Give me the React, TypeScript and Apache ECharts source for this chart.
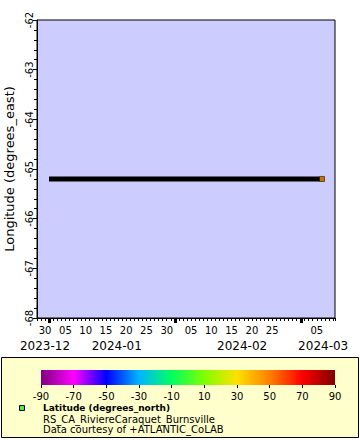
import React, { useEffect, useRef } from 'react';
import * as echarts from 'echarts';

// ---------- data ----------
const axisStartDate = '2023-11-28T00:00:00Z';
const axisEndDate = '2024-02-09T12:00:00Z';

const times = [
  '2023-12-01T14:00:00Z',
  '2023-12-15T00:00:00Z',
  '2024-01-01T00:00:00Z',
  '2024-01-15T00:00:00Z',
  '2024-02-01T00:00:00Z',
  '2024-02-06T07:00:00Z',
];
const longitudes = [-65.2, -65.2, -65.2, -65.2, -65.2, -65.2];
const latitudes = [47.6, 47.6, 47.6, 47.6, 47.6, 47.6];

const dayLabelDates = [
  '2023-11-30', '2023-12-05', '2023-12-10', '2023-12-15', '2023-12-20', '2023-12-25', '2023-12-30',
  '2024-01-05', '2024-01-10', '2024-01-15', '2024-01-20', '2024-01-25', '2024-02-05',
];
const dayLabelTexts = ['30', '05', '10', '15', '20', '25', '30', '05', '10', '15', '20', '25', '05'];

const monthTickDates = ['2023-12-01', '2024-01-01', '2024-02-01'];
const monthLabelTexts = ['2023-12', '2024-01', '2024-02', '2024-03'];
const monthLabelDates = ['2023-11-29T23:00:00Z', '2023-12-17T16:00:00Z', '2024-01-17T14:00:00Z', '2024-02-06T14:00:00Z'];

const yTicks = [-68, -67, -66, -65, -64, -63, -62];

const paletteValues = [-90, -70, -50, -30, -10, 10, 30, 50, 70, 90];
const paletteColors = ['#800080', '#FF00FF', '#0000FF', '#00B4FF', '#00FF60', '#80FF00', '#FFE000', '#FF8000', '#FF0000', '#800000'];

const legendTitle = 'Latitude (degrees_north)';
const legendLine2 = 'RS_CA_RiviereCaraquet_Burnsville';
const legendLine3 = 'Data courtesy of +ATLANTIC_CoLAB';
const yAxisTitle = 'Longitude (degrees_east)';

// ---------- helpers ----------
const DAY = 86400000;
const t0 = Date.parse(axisStartDate);
const toDay = (s: string) => {
  const full = s.length === 10 ? s + 'T00:00:00Z' : s;
  return (Date.parse(full) - t0) / DAY;
};

const FONT = 'DejaVu Sans';

export default function App() {
  const ref = useRef<HTMLDivElement>(null);
  useEffect(() => {
    if (!ref.current) return;
    const chart = echarts.init(ref.current, null, { renderer: 'svg' });

    const dayLabelMap: Record<number, string> = {};
    dayLabelDates.forEach((d, i) => {
      dayLabelMap[Math.round(toDay(d))] = dayLabelTexts[i];
    });

    const lineData = times.map((t, i) => [toDay(t), longitudes[i], latitudes[i]]);
    const lastIdx = times.length - 1;
    const stops = paletteValues.map((v, i) => ({ offset: (v + 90) / 180, color: paletteColors[i] }));

    const option: any = {
      animation: false,
      backgroundColor: '#ffffff',
      textStyle: { fontFamily: FONT, color: '#000' },
      grid: [
        {
          left: 37, right: 25, top: 20, bottom: 122, containLabel: false, outerBoundsMode: 'none',
          show: true, backgroundColor: '#CCCCFF', borderColor: '#000', borderWidth: 1,
        },
        { left: 41, right: 25, top: 370, height: 15, show: false, containLabel: false, outerBoundsMode: 'none' },
      ],
      xAxis: [
        {
          gridIndex: 0, type: 'value', min: 0, max: toDay(axisEndDate), interval: 1,
          axisLine: { show: true, lineStyle: { color: '#000', width: 1 } },
          axisTick: { show: true, length: 3, lineStyle: { color: '#000' } },
          axisLabel: {
            show: true, margin: 7, fontSize: 10, fontFamily: FONT, color: '#000',
            formatter: (v: number) => dayLabelMap[Math.round(v)] ?? '',
          },
          splitLine: { show: false },
        },
        {
          gridIndex: 1, type: 'value', min: -90, max: 90, interval: 20,
          axisLine: { show: false },
          axisTick: { show: true, length: 3, lineStyle: { color: '#000' } },
          axisLabel: { show: true, margin: 6, fontSize: 10, fontFamily: FONT, color: '#000' },
          splitLine: { show: false },
        },
      ],
      yAxis: [
        {
          gridIndex: 0, type: 'value', min: yTicks[0], max: yTicks[yTicks.length - 1], interval: 1,
          name: yAxisTitle, nameLocation: 'middle', nameGap: 14,
          nameTextStyle: { fontSize: 13, fontFamily: FONT, color: '#000' },
          axisLine: { show: true, lineStyle: { color: '#000' } },
          axisTick: { show: true, length: 4, lineStyle: { color: '#000' } },
          minorTick: { show: true, splitNumber: 5, length: 3, lineStyle: { color: '#000' } },
          axisLabel: { show: true, rotate: 90, margin: 3, fontSize: 10, fontFamily: FONT, color: '#000' },
          splitLine: { show: false },
          minorSplitLine: { show: false },
        },
        { gridIndex: 1, type: 'value', min: 0, max: 1, show: false },
      ],
      visualMap: {
        show: false, type: 'continuous', seriesIndex: 1, dimension: 2,
        min: -90, max: 90,
        inRange: { color: paletteColors },
      },
      series: [
        {
          type: 'line', xAxisIndex: 0, yAxisIndex: 0, data: lineData,
          showSymbol: false, symbol: 'none',
          lineStyle: { color: '#000', width: 5, cap: 'square' },
          z: 3,
        },
        {
          type: 'scatter', xAxisIndex: 0, yAxisIndex: 0,
          data: [lineData[lastIdx]],
          symbol: 'rect', symbolSize: 5,
          itemStyle: { borderColor: '#000', borderWidth: 0.5 },
          z: 4,
        },
        {
          type: 'custom', xAxisIndex: 0, yAxisIndex: 0, clip: false,
          data: monthTickDates.map((d) => [toDay(d)]),
          renderItem: (params: any, api: any) => {
            const p = api.coord([api.value(0), yTicks[0]]);
            return {
              type: 'rect',
              shape: { x: Math.round(p[0]) - 1, y: p[1], width: 3, height: 5 },
              style: { fill: '#000' },
            };
          },
          z: 5,
        },
        {
          type: 'custom', xAxisIndex: 0, yAxisIndex: 0, clip: false,
          data: monthLabelDates.map((d, i) => [toDay(d), i]),
          renderItem: (params: any, api: any) => {
            const p = api.coord([api.value(0), yTicks[0]]);
            return {
              type: 'text',
              x: p[0], y: p[1] + 28,
              style: {
                text: monthLabelTexts[api.value(1)],
                fontSize: 12, fontFamily: FONT, fill: '#000',
                align: 'center', verticalAlign: 'middle',
              },
            };
          },
          z: 5,
        },
        {
          type: 'custom', xAxisIndex: 1, yAxisIndex: 1, clip: false,
          data: [[paletteValues[0], paletteValues[paletteValues.length - 1]]],
          renderItem: (params: any, api: any) => {
            const a = api.coord([api.value(0), 1]);
            const b = api.coord([api.value(1), 0]);
            return {
              type: 'rect',
              shape: { x: a[0], y: a[1], width: b[0] - a[0], height: b[1] - a[1] },
              style: { fill: new echarts.graphic.LinearGradient(0, 0, 1, 0, stops) },
            };
          },
          z: 5,
        },
      ],
      graphic: [
        {
          type: 'rect', z: -10, silent: true,
          shape: { x: 1.5, y: 357.5, width: 357, height: 80 },
          style: { fill: '#FFFFCC', stroke: '#000', lineWidth: 1 },
        },
        {
          type: 'rect', z: 10,
          shape: { x: 19.5, y: 405.5, width: 5, height: 5 },
          style: { fill: '#44EE44', stroke: '#000', lineWidth: 1 },
        },
        {
          type: 'text', z: 10, x: 43, y: 408,
          style: { text: legendTitle, font: `bold 9px "${FONT}"`, fill: '#000', verticalAlign: 'middle' },
        },
        {
          type: 'text', z: 10, x: 43, y: 419,
          style: { text: legendLine2, font: `10px "${FONT}"`, fill: '#000', verticalAlign: 'middle' },
        },
        {
          type: 'text', z: 10, x: 43, y: 429,
          style: { text: legendLine3, font: `10px "${FONT}"`, fill: '#000', verticalAlign: 'middle' },
        },
      ],
    };
    chart.setOption(option);
    return () => chart.dispose();
  }, []);
  return (
    <div
      ref={ref}
      style={{ position: 'fixed', left: 0, top: 0, width: 360, height: 440, background: '#fff' }}
    />
  );
}
